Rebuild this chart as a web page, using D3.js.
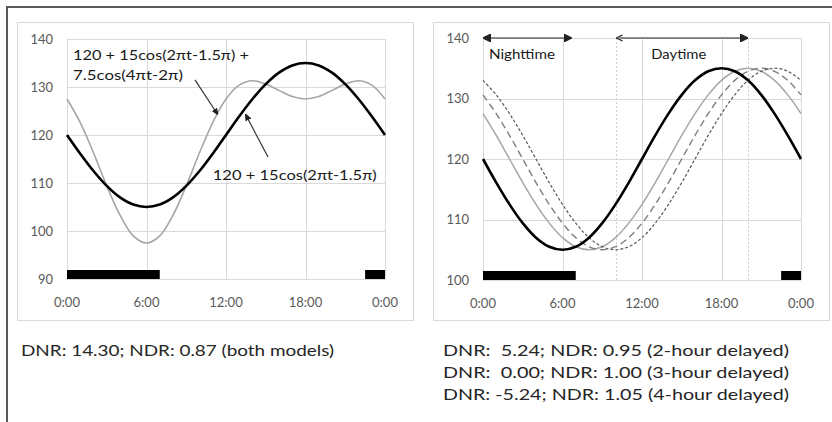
<!DOCTYPE html>
<html>
<head>
<meta charset="utf-8">
<script src="https://cdn.jsdelivr.net/npm/d3@7"></script>
<style>
  body { margin: 0; background: #fff; }
  svg { display: block; font-family: Lato, "Open Sans", sans-serif; }
</style>
</head>
<body>
<script>
// hour of day, sampled every hour
var hours = [0, 1, 2, 3, 4, 5, 6, 7, 8, 9, 10, 11, 12, 13, 14, 15, 16, 17, 18, 19, 20, 21, 22, 23, 24];

// blood pressure curves (mmHg)
var cosinorBP = [120, 116.1, 112.5, 109.4, 107.0, 105.5, 105, 105.5, 107.0, 109.4, 112.5, 116.1, 120,
                 123.9, 127.5, 130.6, 133.0, 134.5, 135, 134.5, 133.0, 130.6, 127.5, 123.9, 120];
var harmonicBP = [127.5, 122.6, 116.3, 109.4, 103.3, 99.0, 97.5, 99.0, 103.3, 109.4, 116.3, 122.6, 127.5,
                  130.4, 131.3, 130.6, 129.3, 128.0, 127.5, 128.0, 129.3, 130.6, 131.3, 130.4, 127.5];
var delayed2h = [127.5, 123.9, 120, 116.1, 112.5, 109.4, 107.0, 105.5, 105, 105.5, 107.0, 109.4, 112.5,
                 116.1, 120, 123.9, 127.5, 130.6, 133.0, 134.5, 135, 134.5, 133.0, 130.6, 127.5];
var delayed3h = [130.6, 127.5, 123.9, 120, 116.1, 112.5, 109.4, 107.0, 105.5, 105, 105.5, 107.0, 109.4,
                 112.5, 116.1, 120, 123.9, 127.5, 130.6, 133.0, 134.5, 135, 134.5, 133.0, 130.6];
var delayed4h = [133.0, 130.6, 127.5, 123.9, 120, 116.1, 112.5, 109.4, 107.0, 105.5, 105, 105.5, 107.0,
                 109.4, 112.5, 116.1, 120, 123.9, 127.5, 130.6, 133.0, 134.5, 135, 134.5, 133.0];

var xTickHours = [0, 6, 12, 18, 24];
var xTickLabels = ["0:00", "6:00", "12:00", "18:00", "0:00"];
var leftYTicks = [90, 100, 110, 120, 130, 140];
var rightYTicks = [100, 110, 120, 130, 140];

// sleep periods (black bars), hours
var sleepPeriods = [[0, 7], [22.5, 24]];
// nighttime / daytime windows on the right chart
var periodNames = ["Nighttime", "Daytime"];
var periodRanges = [[0, 6.7], [10, 20]];
var dayBounds = [10, 20];

var harmonicLabel = ["120 + 15cos(2\u03c0t-1.5\u03c0) +", "7.5cos(4\u03c0t-2\u03c0)"];
var cosinorLabel = "120 + 15cos(2\u03c0t-1.5\u03c0)";
var leftNotes = ["DNR: 14.30; NDR: 0.87 (both models)"];
var rightNotes = ["DNR:  5.24; NDR: 0.95 (2-hour delayed)",
                  "DNR:  0.00; NDR: 1.00 (3-hour delayed)",
                  "DNR: -5.24; NDR: 1.05 (4-hour delayed)"];

var fullWidth = 832;
var fullHeight = 422;

var svg = d3.select("body").append("svg")
    .attr("width", fullWidth)
    .attr("height", fullHeight);

var defs = svg.append("defs");
function marker(id, d, w, filled) {
    defs.append("marker")
        .attr("id", id)
        .attr("markerUnits", "userSpaceOnUse")
        .attr("viewBox", "0 0 " + w + " " + w)
        .attr("markerWidth", w).attr("markerHeight", w)
        .attr("refX", w / 2).attr("refY", w / 2)
        .attr("orient", "auto")
        .append("path")
        .attr("d", d)
        .attr("fill", filled ? "#222" : "none")
        .attr("stroke", "#222")
        .attr("stroke-width", 1.2);
}
marker("head", "M0,0 L8,4 L0,8 z", 8, true);
marker("tail", "M8,0 L0,4 L8,8 z", 8, true);
marker("opentail", "M7,1 L1,4 L7,7", 8, false);
marker("pin", "M0,0.5 L6,3 L0,5.5 z", 6, true);

// outer frame of the figure
svg.append("path")
    .attr("d", "M7," + fullHeight + " V7 H" + fullWidth)
    .attr("fill", "none")
    .attr("stroke", "#595959")
    .attr("stroke-width", 2);

var panels = [
    { box: [17, 22, 396, 298], xr: [67, 385], yr: [279, 39], yd: [90, 140], yTicks: leftYTicks },
    { box: [433, 22, 396, 298], xr: [483, 801], yr: [280, 38], yd: [100, 140], yTicks: rightYTicks }
];

function drawPanel(p) {
    var g = svg.append("g");
    g.append("rect")
        .attr("x", p.box[0] + 0.5).attr("y", p.box[1] + 0.5)
        .attr("width", p.box[2]).attr("height", p.box[3])
        .attr("fill", "#fff").attr("stroke", "#d9d9d9");

    var x = d3.scaleLinear().domain([0, 24]).range(p.xr);
    var y = d3.scaleLinear().domain(p.yd).range(p.yr);

    g.selectAll(".hgrid").data(p.yTicks).enter().append("line")
        .attr("x1", x(0)).attr("x2", x(24))
        .attr("y1", d => Math.round(y(d)) + 0.5).attr("y2", d => Math.round(y(d)) + 0.5)
        .attr("stroke", "#d9d9d9");
    g.selectAll(".vgrid").data(xTickHours).enter().append("line")
        .attr("x1", d => Math.round(x(d)) + 0.5).attr("x2", d => Math.round(x(d)) + 0.5)
        .attr("y1", y(p.yd[0])).attr("y2", y(p.yd[1]))
        .attr("stroke", "#d9d9d9");

    g.selectAll(".ylab").data(p.yTicks).enter().append("text")
        .attr("x", x(0) - 14).attr("y", d => y(d) + 4.5)
        .attr("text-anchor", "end")
        .attr("font-size", 13).attr("fill", "#595959")
        .text(d => d);
    g.selectAll(".xlab").data(xTickHours).enter().append("text")
        .attr("x", d => x(d)).attr("y", y(p.yd[0]) + 28)
        .attr("text-anchor", "middle")
        .attr("font-size", 13).attr("fill", "#595959")
        .text((d, i) => xTickLabels[i]);

    g.selectAll(".sleep").data(sleepPeriods).enter().append("rect")
        .attr("x", d => x(d[0])).attr("width", d => x(d[1]) - x(d[0]))
        .attr("y", y(p.yd[0]) - 9).attr("height", 9)
        .attr("fill", "#000");

    p.x = x;
    p.y = y;
    p.g = g;
    p.line = d3.line()
        .x((d, i) => x(hours[i]))
        .y(d => y(d))
        .curve(d3.curveCatmullRom.alpha(0.5));
    return p;
}

var left = drawPanel(panels[0]);
var right = drawPanel(panels[1]);

// left chart: two models
left.g.append("path").attr("d", left.line(harmonicBP))
    .attr("fill", "none").attr("stroke", "#a6a6a6").attr("stroke-width", 1.6);
left.g.append("path").attr("d", left.line(cosinorBP))
    .attr("fill", "none").attr("stroke", "#000").attr("stroke-width", 2.6);

left.g.selectAll(".hlab").data(harmonicLabel).enter().append("text")
    .attr("x", left.x(0.45)).attr("y", (d, i) => left.y(135.6) + i * 20)
    .attr("font-size", 14).attr("fill", "#1a1a1a")
    .attr("textLength", (d, i) => i === 0 ? 176 : 110)
    .attr("lengthAdjust", "spacingAndGlyphs")
    .text(d => d);
left.g.append("text")
    .attr("x", left.x(11.0)).attr("y", left.y(110.6))
    .attr("font-size", 14).attr("fill", "#1a1a1a")
    .attr("textLength", 164).attr("lengthAdjust", "spacingAndGlyphs")
    .text(cosinorLabel);

left.g.append("line")
    .attr("x1", left.x(9.66)).attr("y1", left.y(131.5))
    .attr("x2", left.x(11.25)).attr("y2", left.y(124.8))
    .attr("stroke", "#333").attr("stroke-width", 1.2)
    .attr("marker-end", "url(#pin)");
left.g.append("line")
    .attr("x1", left.x(15.17)).attr("y1", left.y(115.4))
    .attr("x2", left.x(13.58)).attr("y2", left.y(123.75))
    .attr("stroke", "#333").attr("stroke-width", 1.2)
    .attr("marker-end", "url(#pin)");

// right chart: delayed rhythms
right.g.selectAll(".daybound").data(dayBounds).enter().append("line")
    .attr("x1", d => Math.round(right.x(d)) + 0.5).attr("x2", d => Math.round(right.x(d)) + 0.5)
    .attr("y1", right.y(100)).attr("y2", right.y(140))
    .attr("stroke", "#cfcfcf").attr("stroke-dasharray", "2,2");

right.g.append("path").attr("d", right.line(delayed2h))
    .attr("fill", "none").attr("stroke", "#a6a6a6").attr("stroke-width", 1.5);
right.g.append("path").attr("d", right.line(delayed3h))
    .attr("fill", "none").attr("stroke", "#7f7f7f").attr("stroke-width", 1.4)
    .attr("stroke-dasharray", "7,4");
right.g.append("path").attr("d", right.line(delayed4h))
    .attr("fill", "none").attr("stroke", "#595959").attr("stroke-width", 1.2)
    .attr("stroke-dasharray", "3,2");
right.g.append("path").attr("d", right.line(cosinorBP))
    .attr("fill", "none").attr("stroke", "#000").attr("stroke-width", 2.6);

right.g.selectAll(".period").data(periodRanges).enter().append("line")
    .attr("x1", d => right.x(d[0]) + 4).attr("x2", d => right.x(d[1]) - 4)
    .attr("y1", right.y(140)).attr("y2", right.y(140))
    .attr("stroke", "#222").attr("stroke-width", 1)
    .attr("marker-start", (d, i) => i === 0 ? "url(#tail)" : "url(#opentail)")
    .attr("marker-end", "url(#head)");
right.g.selectAll(".plab").data(periodNames).enter().append("text")
    .attr("x", (d, i) => i === 0 ? right.x(0.45) : right.x(12.7))
    .attr("y", right.y(140) + 21)
    .attr("font-size", 14).attr("fill", "#1a1a1a")
    .attr("textLength", (d, i) => i === 0 ? 66 : 55)
    .attr("lengthAdjust", "spacingAndGlyphs")
    .text(d => d);

// captions under the charts
svg.selectAll(".lnote").data(leftNotes).enter().append("text")
    .attr("x", 21).attr("y", (d, i) => 356 + i * 22)
    .attr("font-size", 16).attr("fill", "#262626")
    .attr("textLength", 313).attr("lengthAdjust", "spacingAndGlyphs")
    .style("white-space", "pre")
    .text(d => d);
svg.selectAll(".rnote").data(rightNotes).enter().append("text")
    .attr("x", 443).attr("y", (d, i) => 356 + i * 22)
    .attr("font-size", 16).attr("fill", "#262626")
    .attr("textLength", 346).attr("lengthAdjust", "spacingAndGlyphs")
    .style("white-space", "pre")
    .text(d => d);
</script>
</body>
</html>
